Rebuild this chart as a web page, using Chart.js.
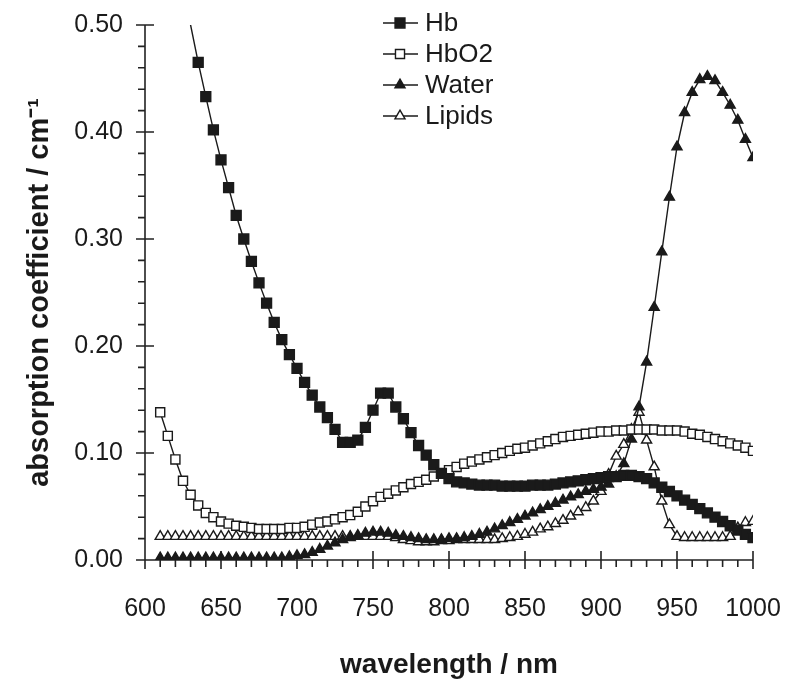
<!DOCTYPE html>
<html>
<head>
<meta charset="utf-8">
<script src="https://cdn.jsdelivr.net/npm/chart.js@4.4.0/dist/chart.umd.min.js"></script>
<style>
  html, body { margin: 0; padding: 0; background: #fff; }
</style>
</head>
<body>
<canvas id="spectra" width="789" height="684"></canvas>
<script>
// wavelengths in nm, one point every 5 nm
const wavelengths = [
  610, 615, 620, 625, 630, 635, 640, 645, 650, 655,
  660, 665, 670, 675, 680, 685, 690, 695, 700, 705,
  710, 715, 720, 725, 730, 735, 740, 745, 750, 755,
  760, 765, 770, 775, 780, 785, 790, 795, 800, 805,
  810, 815, 820, 825, 830, 835, 840, 845, 850, 855,
  860, 865, 870, 875, 880, 885, 890, 895, 900, 905,
  910, 915, 920, 925, 930, 935, 940, 945, 950, 955,
  960, 965, 970, 975, 980, 985, 990, 995, 1000
];

const hb = [
  null, null, null, 0.535, 0.500, 0.465, 0.433, 0.402, 0.374, 0.348,
  0.322, 0.300, 0.279, 0.259, 0.240, 0.222, 0.206, 0.192, 0.179, 0.166,
  0.154, 0.143, 0.133, 0.122, 0.110, 0.110, 0.112, 0.124, 0.140, 0.156,
  0.156, 0.143, 0.132, 0.119, 0.107, 0.098, 0.089, 0.081, 0.076, 0.073,
  0.072, 0.071, 0.070, 0.070, 0.070, 0.069, 0.069, 0.069, 0.069, 0.070,
  0.070, 0.070, 0.071, 0.072, 0.073, 0.074, 0.075, 0.076, 0.077, 0.078,
  0.078, 0.079, 0.079, 0.078, 0.076, 0.072, 0.068, 0.064, 0.060, 0.056,
  0.052, 0.048, 0.044, 0.040, 0.036, 0.032, 0.028, 0.024, 0.021
];

const hbo2 = [
  0.138, 0.116, 0.094, 0.074, 0.061, 0.051, 0.044, 0.040, 0.036, 0.034,
  0.032, 0.031, 0.030, 0.029, 0.029, 0.029, 0.029, 0.030, 0.030, 0.031,
  0.033, 0.035, 0.036, 0.038, 0.040, 0.042, 0.045, 0.050, 0.055, 0.059,
  0.062, 0.065, 0.068, 0.071, 0.073, 0.075, 0.078, 0.081, 0.084, 0.087,
  0.090, 0.092, 0.094, 0.096, 0.098, 0.100, 0.102, 0.104, 0.105, 0.107,
  0.109, 0.111, 0.113, 0.115, 0.116, 0.117, 0.118, 0.119, 0.120, 0.120,
  0.121, 0.121, 0.122, 0.122, 0.122, 0.122, 0.121, 0.121, 0.121, 0.120,
  0.118, 0.117, 0.115, 0.113, 0.111, 0.109, 0.107, 0.105, 0.102
];

const water = [
  0.002, 0.002, 0.002, 0.002, 0.002, 0.002, 0.002, 0.002, 0.002, 0.002,
  0.002, 0.002, 0.002, 0.002, 0.002, 0.002, 0.002, 0.003, 0.004, 0.005,
  0.007, 0.010, 0.013, 0.016, 0.019, 0.021, 0.023, 0.025, 0.026, 0.026,
  0.025, 0.023, 0.022, 0.021, 0.020, 0.019, 0.019, 0.019, 0.020, 0.020,
  0.021, 0.022, 0.024, 0.026, 0.029, 0.032, 0.035, 0.038, 0.041, 0.044,
  0.047, 0.050, 0.053, 0.056, 0.059, 0.061, 0.064, 0.066, 0.068, 0.071,
  0.078, 0.090, 0.113, 0.143, 0.185, 0.236, 0.288, 0.339, 0.386, 0.418,
  0.437, 0.449, 0.452, 0.448, 0.437, 0.425, 0.411, 0.393, 0.376
];

const lipids = [
  0.022, 0.022, 0.022, 0.022, 0.022, 0.022, 0.022, 0.022, 0.022, 0.022,
  0.022, 0.022, 0.022, 0.022, 0.022, 0.022, 0.022, 0.022, 0.022, 0.022,
  0.022, 0.022, 0.022, 0.022, 0.022, 0.022, 0.022, 0.022, 0.022, 0.022,
  0.022, 0.021, 0.019, 0.018, 0.017, 0.017, 0.017, 0.018, 0.018, 0.019,
  0.019, 0.019, 0.019, 0.019, 0.019, 0.020, 0.021, 0.022, 0.024, 0.026,
  0.029, 0.031, 0.034, 0.037, 0.041, 0.045, 0.049, 0.055, 0.064, 0.080,
  0.097, 0.108, 0.122, 0.138, 0.112, 0.087, 0.055, 0.033, 0.022, 0.021,
  0.021, 0.021, 0.021, 0.021, 0.021, 0.022, 0.030, 0.035, 0.036
];

const seriesLabels = ['Hb', 'HbO2', 'Water', 'Lipids'];

const FONT = '"Liberation Sans", Arial, sans-serif';
const INK = '#1a1a1a';
const Y_MAX = 0.5;

function toPoints(values) {
  return wavelengths
    .map((w, i) => ({ x: w, y: values[i] }))
    .filter(p => p.y !== null);
}

// hide markers that sit above the plotted range (only the line shows there)
function markerSize(size) {
  return ctx => (ctx.raw && ctx.raw.y > Y_MAX - 0.01 ? 0 : size);
}

function makeSeries(label, values, style, filled, size) {
  return {
    label: label,
    data: toPoints(values),
    borderColor: INK,
    borderWidth: 1.4,
    tension: 0,
    pointStyle: style,
    pointRadius: markerSize(size),
    pointBorderWidth: 1.4,
    pointBorderColor: INK,
    pointBackgroundColor: filled ? INK : '#ffffff',
    markerRadius: size
  };
}

// axis lines with crossing major ticks and outward minor ticks
const axisTicks = {
  id: 'axisTicks',
  beforeDatasetsDraw(chart) {
    const { ctx, chartArea: a, scales: { x, y } } = chart;
    ctx.save();
    ctx.strokeStyle = '#222';
    ctx.lineWidth = 1.6;
    ctx.beginPath();
    ctx.moveTo(a.left, a.top);
    ctx.lineTo(a.left, a.bottom);
    ctx.lineTo(a.right, a.bottom);
    for (let i = 0; i <= 25; i++) {
      const py = y.getPixelForValue(i * 0.02);
      const major = i % 5 === 0;
      ctx.moveTo(a.left - (major ? 9 : 7), py);
      ctx.lineTo(a.left + (major ? 9 : 0), py);
    }
    for (let i = 0; i <= 40; i++) {
      const px = x.getPixelForValue(600 + i * 10);
      const major = i % 5 === 0;
      ctx.moveTo(px, a.bottom - (major ? 9 : 0));
      ctx.lineTo(px, a.bottom + (major ? 9 : 7));
    }
    ctx.stroke();
    ctx.restore();
  }
};

// legend drawn inside the plot, near the top centre
const innerLegend = {
  id: 'innerLegend',
  afterDraw(chart) {
    const ctx = chart.ctx;
    chart.data.datasets.forEach((ds, i) => {
      const rowY = 23 + i * 31;
      ctx.save();
      ctx.strokeStyle = INK;
      ctx.lineWidth = 1.3;
      ctx.beginPath();
      ctx.moveTo(383, rowY);
      ctx.lineTo(418, rowY);
      ctx.stroke();
      ctx.fillStyle = ds.pointBackgroundColor;
      ctx.strokeStyle = ds.pointBorderColor;
      ctx.lineWidth = ds.pointBorderWidth;
      Chart.helpers.drawPoint(ctx, {
        pointStyle: ds.pointStyle,
        radius: ds.markerRadius,
        borderWidth: ds.pointBorderWidth,
        rotation: 0
      }, 400, rowY);
      ctx.fillStyle = INK;
      ctx.font = '26px ' + FONT;
      ctx.textBaseline = 'middle';
      ctx.textAlign = 'left';
      ctx.fillText(ds.label, 425, rowY + 1);
      ctx.restore();
    });
  }
};

new Chart(document.getElementById('spectra'), {
  type: 'line',
  data: {
    datasets: [
      makeSeries(seriesLabels[0], hb, 'rect', true, 7),
      makeSeries(seriesLabels[1], hbo2, 'rect', false, 6.4),
      makeSeries(seriesLabels[2], water, 'triangle', true, 5.8),
      makeSeries(seriesLabels[3], lipids, 'triangle', false, 5.8)
    ]
  },
  options: {
    responsive: false,
    animation: false,
    devicePixelRatio: 1,
    layout: { padding: { left: 0, right: 36, top: 25, bottom: 0 } },
    plugins: {
      legend: { display: false },
      tooltip: { enabled: false }
    },
    scales: {
      x: {
        type: 'linear',
        min: 600,
        max: 1000,
        afterFit: s => {
          s.height = 124;
          s.paddingLeft = 0;
          s.paddingRight = 0;
        },
        grid: { display: false, drawTicks: false },
        border: { display: false },
        ticks: {
          stepSize: 50,
          padding: 34,
          color: INK,
          font: { family: FONT, size: 25 },
          maxRotation: 0,
          callback: v => String(v)
        },
        title: {
          display: true,
          text: 'wavelength / nm',
          color: INK,
          padding: 2,
          font: { family: FONT, size: 28, weight: 'bold' }
        }
      },
      y: {
        min: 0,
        max: Y_MAX,
        afterFit: s => {
          s.width = 145;
          s.paddingTop = 0;
          s.paddingBottom = 0;
        },
        grid: { display: false, drawTicks: false },
        border: { display: false },
        ticks: {
          stepSize: 0.1,
          padding: 22,
          color: INK,
          font: { family: FONT, size: 25 },
          callback: v => v.toFixed(2)
        },
        title: {
          display: true,
          text: 'absorption coefficient / cm⁻¹',
          color: INK,
          padding: 23,
          font: { family: FONT, size: 29, weight: 'bold' }
        }
      }
    }
  },
  plugins: [axisTicks, innerLegend]
});
</script>
</body>
</html>
